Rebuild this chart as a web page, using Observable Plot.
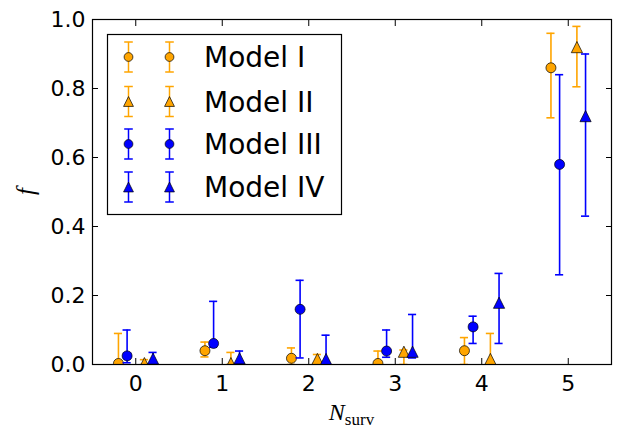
<!DOCTYPE html>
<html><head><meta charset="utf-8">
<script src="https://cdn.jsdelivr.net/npm/d3@7"></script>
<script src="https://cdn.jsdelivr.net/npm/@observablehq/plot@0.6"></script>
<style>body{margin:0;background:#fff}#chart{width:623px;height:429px}</style>
</head><body><div id="chart"></div>
<script>
// ---- data ----
const categories = [0, 1, 2, 3, 4, 5];
const yTicks = [0, 0.2, 0.4, 0.6, 0.8, 1.0];
const modelNames = ["Model I", "Model II", "Model III", "Model IV"];

const modelI     = [0.003, 0.040, 0.018, 0.003, 0.040, 0.860];
const modelILow  = [0.000, 0.022, 0.000, 0.000, 0.000, 0.715];
const modelIHigh = [0.090, 0.065, 0.048, 0.039, 0.078, 0.960];

const modelII     = [0.004, 0.004, 0.016, 0.037, 0.016, 0.920];
const modelIILow  = [0.000, 0.000, 0.005, 0.000, 0.000, 0.805];
const modelIIHigh = [0.014, 0.035, 0.029, 0.042, 0.090, 0.980];

const modelIII     = [0.025, 0.061, 0.160, 0.039, 0.109, 0.580];
const modelIIILow  = [0.005, 0.050, 0.019, 0.021, 0.061, 0.260];
const modelIIIHigh = [0.100, 0.183, 0.244, 0.100, 0.140, 0.840];

const modelIV     = [0.017, 0.018, 0.016, 0.037, 0.179, 0.720];
const modelIVLow  = [0.000, 0.000, 0.003, 0.019, 0.061, 0.430];
const modelIVHigh = [0.035, 0.039, 0.085, 0.145, 0.264, 0.900];

// ---- styling ----
const offsets = [-0.2, 0.1, -0.1, 0.2];
const colors = ["#FFA500", "#FFA500", "#0000FF", "#0000FF"];
// matplotlib-style "^" marker
const triUp = {draw(ctx, size) {
  const r = Math.sqrt(size / Math.PI) * 1.12;
  ctx.moveTo(0, -r); ctx.lineTo(-r, r); ctx.lineTo(r, r); ctx.closePath();
}};
const symbols = [d3.symbolCircle, triUp, d3.symbolCircle, triUp];
const radius = 5;
const legendRadius = 4.4;
const capHalf = 0.047;

const series = [
  [modelI, modelILow, modelIHigh],
  [modelII, modelIILow, modelIIHigh],
  [modelIII, modelIIILow, modelIIIHigh],
  [modelIV, modelIVLow, modelIVHigh]
];

const W = 623, H = 429;
const mL = 92, mR = 12, mT = 19, mB = 65;

const marks = [];
series.forEach(([v, lo, hi], m) => {
  const rows = categories.map((c, i) => ({x: c + offsets[m], y: v[i], lo: lo[i], hi: hi[i]}));
  marks.push(
    Plot.ruleX(rows, {x: "x", y1: "lo", y2: "hi", stroke: colors[m], strokeWidth: 1.6, clip: true}),
    Plot.ruleY(rows, {y: "lo", x1: d => d.x - capHalf, x2: d => d.x + capHalf, stroke: colors[m], strokeWidth: 1.6, clip: true}),
    Plot.ruleY(rows, {y: "hi", x1: d => d.x - capHalf, x2: d => d.x + capHalf, stroke: colors[m], strokeWidth: 1.6, clip: true}),
    Plot.dot(rows, {x: "x", y: "y", symbol: symbols[m], r: radius, fill: colors[m], stroke: "black", strokeWidth: 0.7, clip: true})
  );
});

const plot = Plot.plot({
  width: W, height: H,
  marginLeft: mL, marginRight: mR, marginTop: mT, marginBottom: mB,
  style: {fontFamily: "DejaVu Sans", fontSize: "22px", background: "white", color: "black"},
  x: {domain: [-0.5, 5.5]},
  y: {domain: [0, 1]},
  marks: [
    ...marks,
    Plot.frame({stroke: "black", strokeWidth: 1.2}),
    Plot.axisX({anchor: "bottom", ticks: categories, tickFormat: d3.format("d"), tickSize: -6, tickPadding: 17, label: null, fontSize: 22}),
    Plot.axisX({anchor: "top", ticks: categories, tickFormat: () => "", tickSize: -6, label: null}),
    Plot.axisY({anchor: "left", ticks: yTicks, tickFormat: d3.format(".1f"), tickSize: -6, tickPadding: 13, label: null, fontSize: 22}),
    Plot.axisY({anchor: "right", ticks: yTicks, tickFormat: () => "", tickSize: -6, label: null})
  ]
});

const svg = d3.select(plot);
const cx = mL + (W - mL - mR) / 2;
const cy = mT + (H - mT - mB) / 2;

// x-axis label: N_surv
const xl = svg.append("text")
  .attr("x", cx).attr("y", 420)
  .attr("text-anchor", "middle")
  .attr("font-family", "Liberation Serif, DejaVu Serif, serif")
  .attr("font-size", 24).attr("fill", "black");
xl.append("tspan").attr("font-style", "italic").text("N");
xl.append("tspan").attr("font-size", 17).attr("dy", 5).text("surv");

// y-axis label: f
svg.append("text")
  .attr("transform", `translate(34,${cy}) rotate(-90)`)
  .attr("text-anchor", "middle")
  .attr("font-family", "Liberation Serif, DejaVu Serif, serif")
  .attr("font-style", "italic")
  .attr("font-size", 25).attr("fill", "black")
  .text("f");

// legend (inside the axes, upper left)
const lg = svg.append("g");
lg.append("rect").attr("x", 107.5).attr("y", 34.5).attr("width", 234).attr("height", 180)
  .attr("fill", "white").attr("stroke", "black").attr("stroke-width", 1.2);
const rowY = [57, 101.5, 144, 187];
const mx = [128.5, 169.5];
modelNames.forEach((name, m) => {
  const y = rowY[m];
  mx.forEach(x => {
    lg.append("line").attr("x1", x).attr("x2", x).attr("y1", y - 15).attr("y2", y + 15)
      .attr("stroke", colors[m]).attr("stroke-width", 1.5);
    [y - 15, y + 15].forEach(yy => lg.append("line").attr("x1", x - 4.3).attr("x2", x + 4.3)
      .attr("y1", yy).attr("y2", yy).attr("stroke", colors[m]).attr("stroke-width", 1.5));
    lg.append("path").attr("d", d3.symbol(symbols[m], Math.PI * legendRadius * legendRadius)())
      .attr("transform", `translate(${x},${y})`)
      .attr("fill", colors[m]).attr("stroke", "black").attr("stroke-width", 0.7);
  });
  lg.append("text").attr("x", 204).attr("y", y + 10)
    .attr("text-anchor", "start")
    .attr("font-family", "DejaVu Sans").attr("font-size", 28).attr("fill", "black")
    .text(name);
});

document.getElementById("chart").appendChild(plot);
</script>
</body></html>
